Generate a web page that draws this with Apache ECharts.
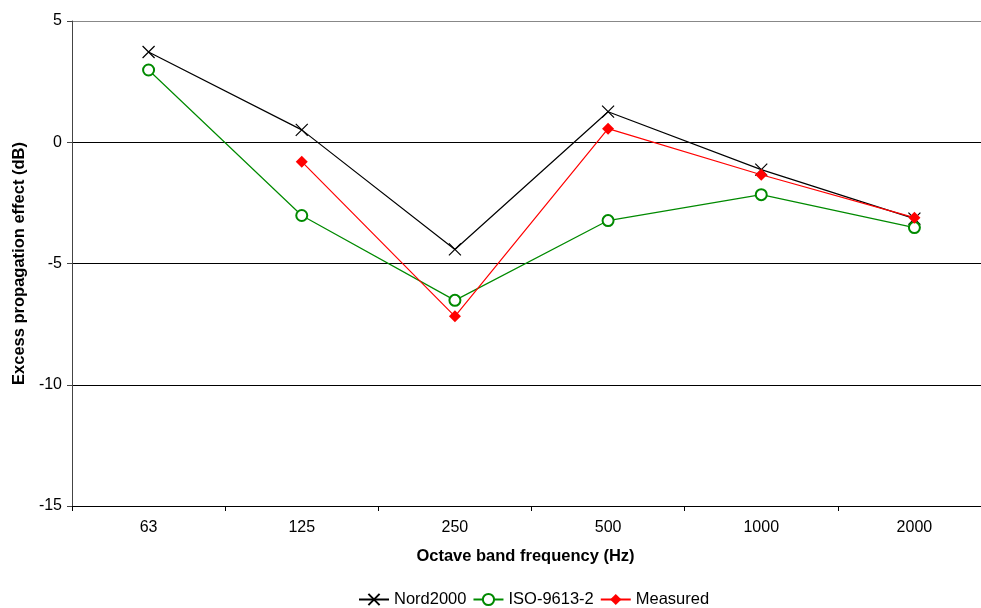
<!DOCTYPE html>
<html><head><meta charset="utf-8">
<script src="https://cdn.jsdelivr.net/npm/echarts@6/dist/echarts.min.js"></script>
<style>html,body{margin:0;padding:0;background:#fff}#c{width:981px;height:608px}</style>
</head><body><div id="c"></div>
<script>
const categories = ['63','125','250','500','1000','2000'];
const nord2000 = [3.72, 0.51, -4.42, 1.26, -1.13, -3.15];
const iso9613 = [2.98, -3.02, -6.52, -3.23, -2.16, -3.52];
const measured = [null, -0.80, -7.18, 0.56, -1.34, -3.11];
const yTicks = {min: -15, max: 5, interval: 5};

const chart = echarts.init(document.getElementById('c'));
const font = 'Arial, "Liberation Sans", sans-serif';
chart.setOption({
  animation: false,
  grid: {left: 72, width: 919, top: 21, height: 485, outerBoundsMode: 'none', containLabel: false},
  legend: {
    top: 586, left: 353, itemGap: 6, itemWidth: 30, itemHeight: 14,
    textStyle: {fontFamily: font, fontSize: 16.5, color: '#000', padding: [0, 0, 0, 0]},
    data: ['Nord2000','ISO-9613-2','Measured']
  },
  xAxis: {
    type: 'category', data: categories, boundaryGap: true,
    name: 'Octave band frequency (Hz)', nameLocation: 'middle', nameGap: 42,
    nameTextStyle: {fontFamily: font, fontSize: 16.5, fontWeight: 'bold', color: '#000', padding: [0, 12, 0, 0]},
    axisLine: {onZero: false, lineStyle: {color: '#000', width: 1}},
    axisTick: {show: true, interval: 0, length: 5, lineStyle: {color: '#000'}},
    axisLabel: {fontFamily: font, fontSize: 16, color: '#000', margin: 14, interval: 0},
    splitLine: {show: false}
  },
  yAxis: {
    type: 'value', min: yTicks.min, max: yTicks.max, interval: yTicks.interval,
    name: 'Excess propagation effect (dB)', nameLocation: 'middle', nameGap: 44, nameRotate: 90,
    nameTextStyle: {fontFamily: font, fontSize: 16.5, fontWeight: 'bold', color: '#000'},
    axisLine: {show: true, onZero: false, lineStyle: {color: '#444', width: 1}},
    axisTick: {show: true, length: 5, lineStyle: {color: '#444'}},
    axisLabel: {fontFamily: font, fontSize: 16, color: '#000', margin: 10},
    splitLine: {show: true, lineStyle: {color: ['#000','#000','#000','#000','#888'], width: 1}}
  },
  series: [
    {name: 'Nord2000', type: 'line', data: nord2000,
     symbol: 'path://M0,0L10,10M10,0L0,10', symbolSize: 12,
     lineStyle: {color: '#000', width: 1.2},
     itemStyle: {color: '#000', borderColor: '#000', borderWidth: 1.2}},
    {name: 'ISO-9613-2', type: 'line', data: iso9613,
     symbol: 'emptyCircle', symbolSize: 11,
     lineStyle: {color: '#008a00', width: 1.2},
     itemStyle: {color: '#008a00', borderColor: '#008a00', borderWidth: 1.2}},
    {name: 'Measured', type: 'line', data: measured, connectNulls: false,
     symbol: 'path://M5,0L10,5L5,10L0,5Z', symbolSize: 12,
     lineStyle: {color: '#ff0000', width: 1.2},
     itemStyle: {color: '#ff0000', borderColor: '#ff0000', borderWidth: 0}}
  ]
});
</script></body></html>
